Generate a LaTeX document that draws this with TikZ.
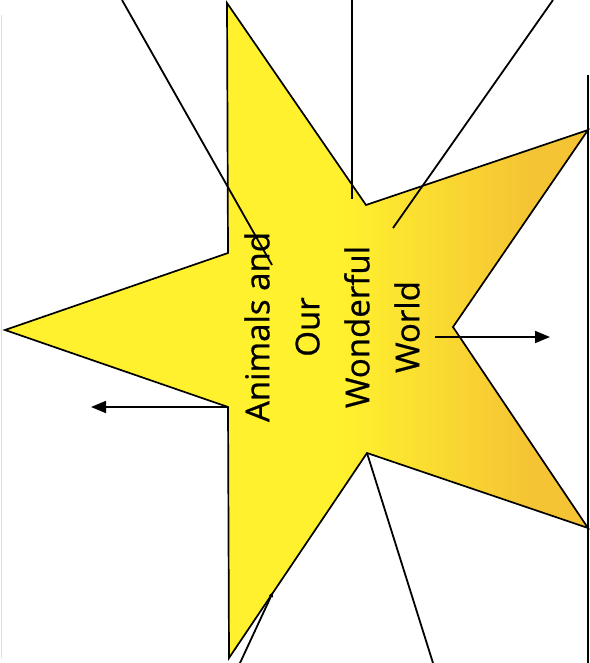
\documentclass[tikz,border=0pt]{standalone}
\usepackage{fontspec}
\setmainfont{Open Sans}[FakeBold=0.7]
\usetikzlibrary{arrows.meta}
\definecolor{sy}{RGB}{255,241,46}
\definecolor{so}{RGB}{245,196,52}
\pgfdeclarehorizontalshading{starshade}{100bp}{color(0bp)=(sy); color(54bp)=(sy); color(70bp)=(so); color(100bp)=(so)}
\begin{document}
\begin{tikzpicture}[x=1pt,y=-1pt,
  conn/.style={draw=black,line width=1.8pt},
  bigarrow/.style={conn,-{Triangle[length=15pt,width=12pt]}},
  smallarrow/.style={conn,-{Triangle[length=5pt,width=4pt]}},
  starstyle/.style={shading=starshade,draw=black,line width=1.7pt,line join=miter},
  title/.style={rotate=90,align=center,text=black,font=\fontsize{33}{50}\selectfont}]
\useasboundingbox (0,0) rectangle (589,663);
% star vertices
\coordinate (T) at (227,3);
\coordinate (I1) at (366,205);
\coordinate (TR) at (588,130);
\coordinate (I2) at (453,327);
\coordinate (BR) at (588,528);
\coordinate (I3) at (367,453);
\coordinate (B) at (229,658);
\coordinate (I4) at (228,407);
\coordinate (L) at (5,330);
\coordinate (I5) at (228,253);
\shadedraw[starstyle] (T) -- (I1) -- (TR) -- (I2) -- (BR) -- (I3) -- (B) -- (I4) -- (L) -- (I5) -- cycle;
% frame lines
\draw[line width=2.2pt] (588,75) -- (588,663);
\draw[black!12,line width=1pt] (1.5,15) -- (1.5,658);
% connector end points
\coordinate (a0) at (122,0);
\coordinate (a1) at (272,265);
\coordinate (b0) at (352,0);
\coordinate (b1) at (352,199);
\coordinate (c0) at (553,0);
\coordinate (c1) at (393,228);
\coordinate (d0) at (435,337);
\coordinate (d1) at (550,337);
\coordinate (e1) at (91,407);
\coordinate (f1) at (433,663);
\coordinate (g0) at (240,663);
\coordinate (g1) at (273,592);
\node[title] (title) at (332,327) {Animals and\\Our\\Wonderful\\World};
\draw[conn] (a0) -- (a1);
\draw[conn] (b0) -- (b1);
\draw[conn] (c0) -- (c1);
\draw[bigarrow] (d0) -- (d1);
\draw[bigarrow] (I4) -- (e1);
\draw[conn] (I3) -- (f1);
\draw[smallarrow] (g0) -- (g1);
\end{tikzpicture}
\end{document}
